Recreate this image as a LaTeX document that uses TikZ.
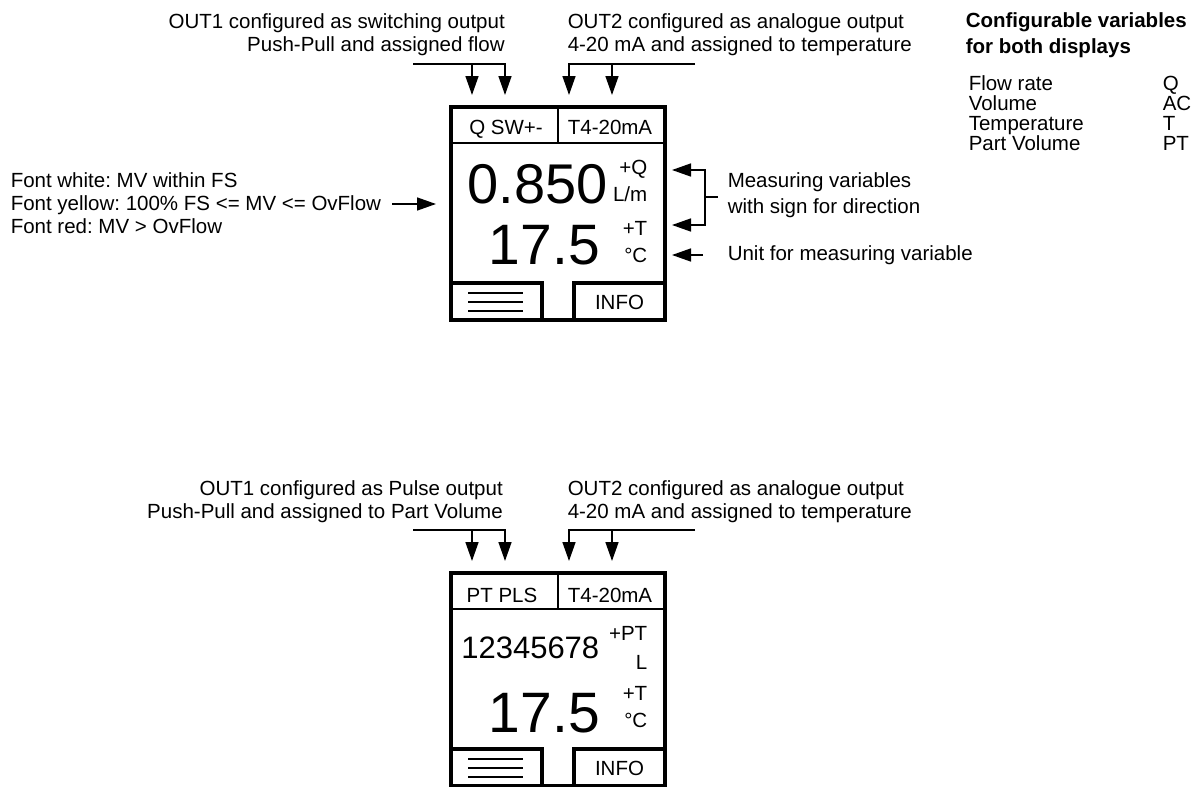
\documentclass[tikz,border=0pt]{standalone}
\usepackage{fontspec}
\setmainfont{Liberation Sans}
\usetikzlibrary{arrows.meta}

\newcommand\lblfont{\fontsize{20.5}{23}\selectfont}
\newcommand\bigfont{\fontsize{56}{56}\selectfont}
\frenchspacing

\begin{document}
\begin{tikzpicture}[x=1pt, y=-1pt, >={Triangle[length=19pt,width=13pt]}, line width=1.5pt,
	lbl/.style={font=\lblfont, inner sep=0pt},
	frame/.style={draw, line width=4pt, inner sep=0pt, outer sep=0pt, minimum width=214pt, minimum height=213pt}]
	\useasboundingbox (0,0) rectangle (1203,787);
	% the two displays: frame, header, buttons and the output arrows
	\foreach \i/\dy in {1/0, 2/466} {
	  \begin{scope}[shift={(0,\dy)}]
	  \node[frame, anchor=north west] (disp\i) at (451,107) {};
	  \draw (451,143) -- (665,143); \draw (558,107) -- (558,143);
	  \draw[line width=4pt] (451,283) -- (542,283) -- (542,320);
	  \draw[line width=4pt] (574,320) -- (574,283) -- (665,283);
	  \foreach \y in {293,302,311} \draw (468,\y) -- (523,\y);
	  \node[lbl, anchor=base] (info\i) at (619.5,309) {INFO};
	  \coordinate (outA\i) at (413,64); \coordinate (outB\i) at (472,64); \coordinate (outC\i) at (505,64);
	  \coordinate (outD\i) at (695,64); \coordinate (outE\i) at (612,64); \coordinate (outF\i) at (569,64);
	  \draw[->] (outA\i) -- (outC\i) -- (505,95);
	  \draw[->] (outB\i) -- (472,95);
	  \draw[->] (outD\i) -- (outF\i) -- (569,95);
	  \draw[->] (outE\i) -- (612,95);
	  \end{scope}
	}
	% top display
	\node[lbl, anchor=north east, align=right] (out1a) at (505.5,12.7) {OUT1 configured as switching output\\Push-Pull and assigned flow};
	\node[lbl, anchor=north west, align=left] (out2a) at (567,12.7) {OUT2 configured as analogue output\\4-20 mA and assigned to temperature};
	\node[lbl, anchor=base] (hdl1) at (506,134) {Q SW+-};
	\node[lbl, anchor=base] (hdr1) at (610,134) {T4-20mA};
	\node[inner sep=0pt, font=\bigfont, anchor=base east] (mvq) at (608.5,203) {0.850};
	\node[inner sep=0pt, font=\fontsize{57}{57}\selectfont, anchor=base east] (mvt1) at (600.5,264) {17.5};
	\node[lbl, anchor=base east] (sq) at (648,174.5) {+Q};
	\node[lbl, anchor=base east] (uq) at (648,201.5) {L/m};
	\node[lbl, anchor=base east] (st1) at (648,235.5) {+T};
	\node[lbl, anchor=base east] (ut1) at (648,262.5) {°C};
	% colour note on the left
	\node[lbl, anchor=west, align=left] (colnote) at (10,203) {Font white: MV within FS\\Font yellow: 100\% FS <= MV <= OvFlow\\Font red: MV > OvFlow};
	\coordinate (cn) at (392,204); \coordinate (cd) at (436,204);
	\draw[->] (cn) -- (cd);
	% notes on the right
	\coordinate (mq) at (672,170); \coordinate (mt) at (672,225); \coordinate (mb) at (718,197);
	\draw[<->] (mq) -- (705,170) -- (705,225) -- (mt);
	\draw (705,197) -- (mb);
	\node[lbl, anchor=north west, align=left, font=\fontsize{20.5}{26}\selectfont] (mvnote) at (727,172) {Measuring variables\\with sign for direction};
	\coordinate (un) at (703,255); \coordinate (ud) at (672,255);
	\draw[->] (un) -- (ud);
	\node[lbl, anchor=west] (unote) at (727,255) {Unit for measuring variable};
	% variables list
	\node[lbl, anchor=north west, align=left, font=\fontsize{20.5}{26}\selectfont\bfseries] (vtitle) at (965,11.6) {Configurable variables\\for both displays};
	\foreach \n/\s [count=\k] in {Flow rate/Q, Volume/AC, Temperature/T, Part Volume/PT} {
	  \node[lbl, anchor=base west] (var\k) at (968,70.3+20*\k) {\n};
	  \node[lbl, anchor=base west] (sym\k) at (1162,70.3+20*\k) {\s};
	}
	% bottom display
	\node[lbl, anchor=north east, align=right] (out1b) at (503.5,480) {OUT1 configured as Pulse output\\Push-Pull and assigned to Part Volume};
	\node[lbl, anchor=north west, align=left] (out2b) at (567,480) {OUT2 configured as analogue output\\4-20 mA and assigned to temperature};
	\node[lbl, anchor=base] (hdl2) at (502,602) {PT PLS};
	\node[lbl, anchor=base] (hdr2) at (610,602) {T4-20mA};
	\node[inner sep=0pt, font=\fontsize{31}{31}\selectfont, anchor=base east] (mvpt) at (600,658) {12345678};
	\node[inner sep=0pt, font=\fontsize{57}{57}\selectfont, anchor=base east] (mvt2) at (600.5,732) {17.5};
	\node[lbl, anchor=base east] (spt) at (648,640.5) {+PT};
	\node[lbl, anchor=base east] (upt) at (648,669.5) {L};
	\node[lbl, anchor=base east] (st2) at (648,700.5) {+T};
	\node[lbl, anchor=base east] (ut2) at (648,727.5) {°C};
\end{tikzpicture}
\end{document}
